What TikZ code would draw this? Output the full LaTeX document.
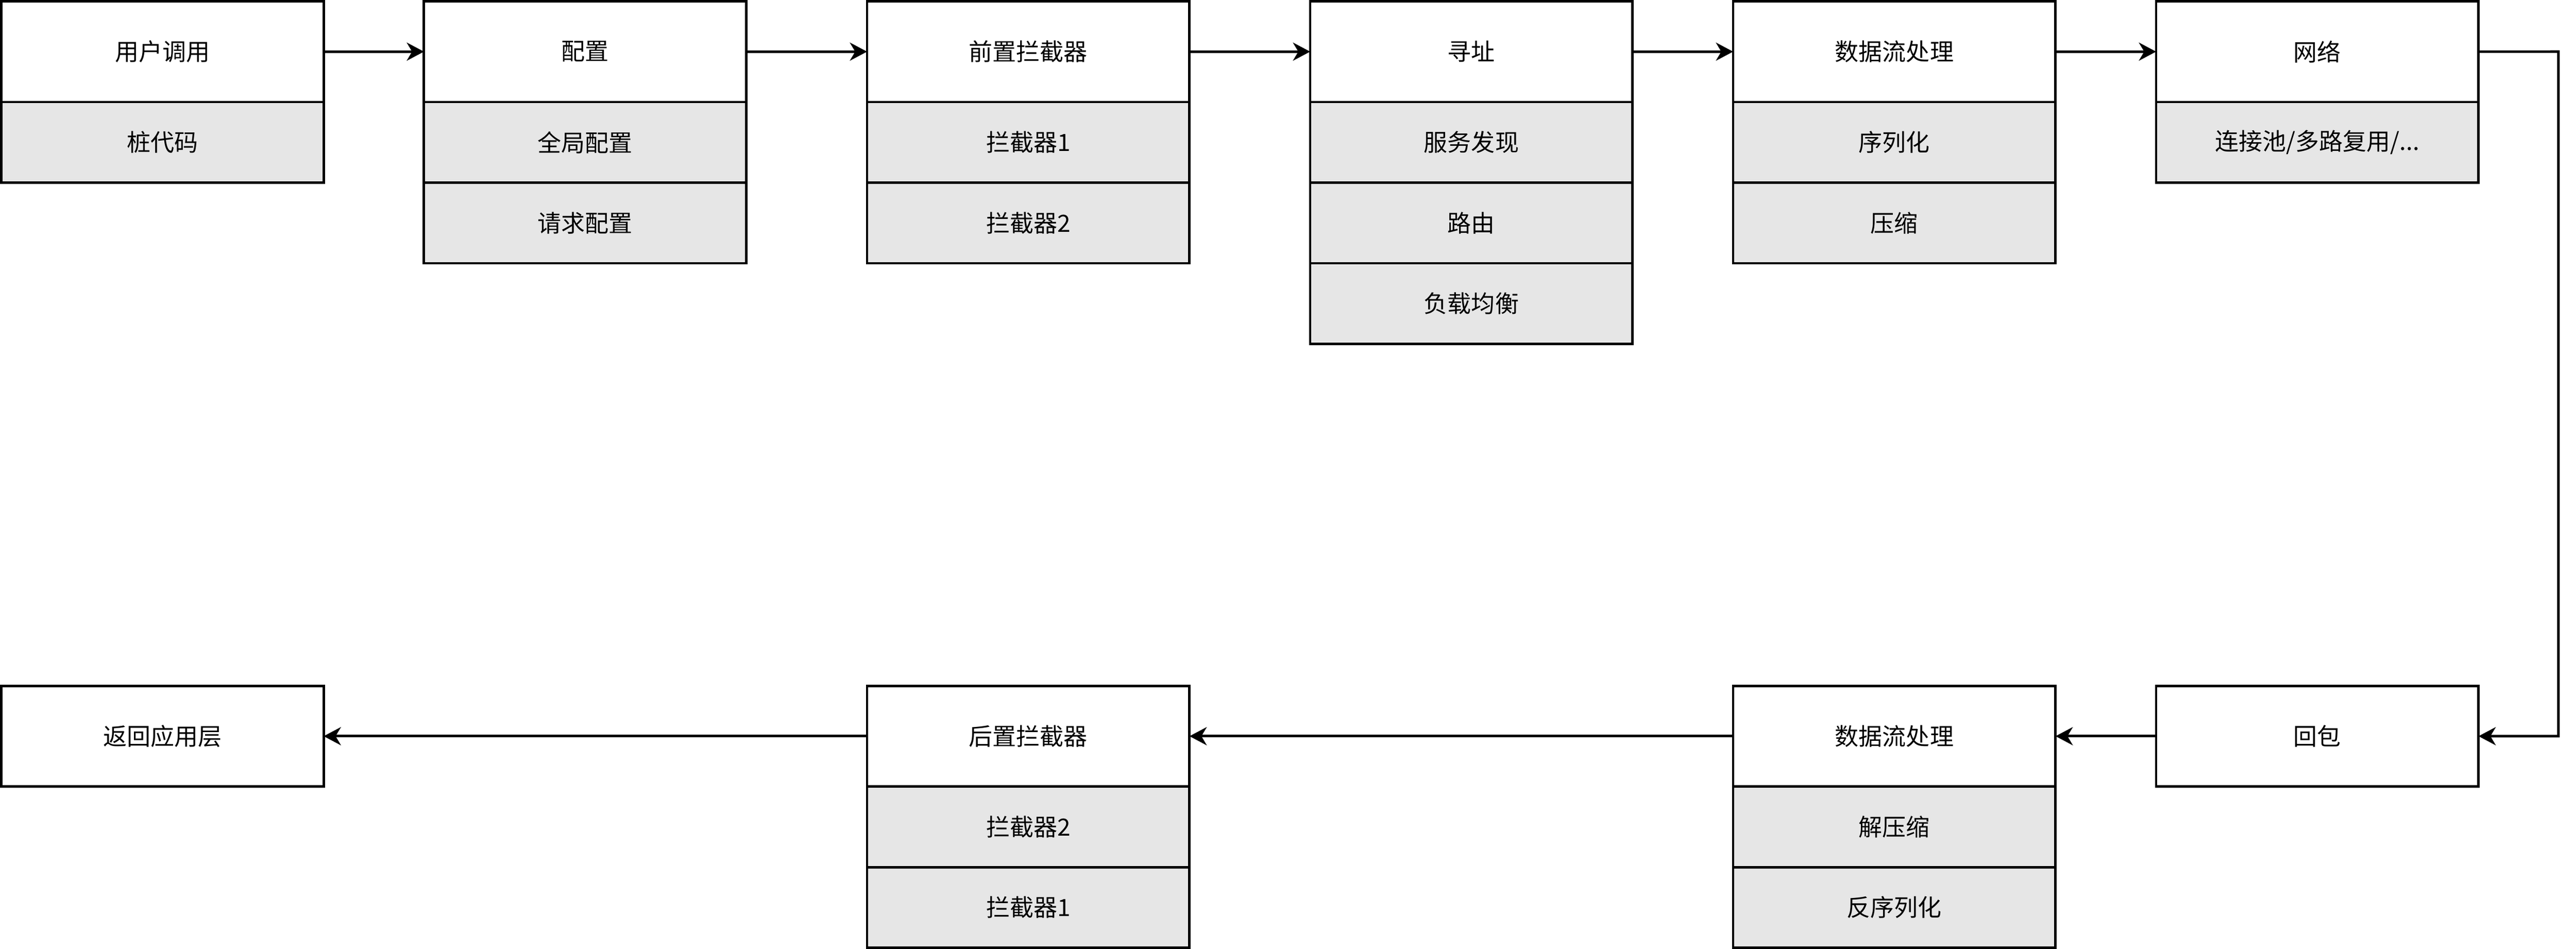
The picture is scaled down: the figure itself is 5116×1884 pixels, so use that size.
\documentclass[tikz,border=0pt]{standalone}
\usepackage{fontspec}
\setmainfont{Noto Sans CJK SC}
\usetikzlibrary{arrows.meta}
\definecolor{rowgray}{HTML}{E6E6E6}
\begin{document}
\begin{tikzpicture}[x=0.01cm,y=-0.01cm,
  box/.style={draw=black, line width=1.42pt, minimum width=6.4cm, minimum height=2cm,
    inner sep=0pt, outer sep=0pt, font=\fontsize{13.4pt}{16pt}\selectfont,
    anchor=north west, fill=white},
  row/.style={box, minimum height=1.6cm, fill=rowgray},
  conn/.style={line width=1.42pt, -{Stealth[length=9.7pt,width=10.2pt,inset=3pt]}}]
\useasboundingbox (0,0) rectangle (5116,1884);
% top row
\node[box] (h1) at (2.5,2.5) {用户调用};
\node[row] (r11) at (h1.south west) {桩代码};
\node[box] (h2) at (842,2.5) {配置};
\node[row] (r21) at (h2.south west) {全局配置};
\node[row] (r22) at (r21.south west) {请求配置};
\node[box] (h3) at (1722,2.5) {前置拦截器};
\node[row] (r31) at (h3.south west) {拦截器1};
\node[row] (r32) at (r31.south west) {拦截器2};
\node[box] (h4) at (2602,2.5) {寻址};
\node[row] (r41) at (h4.south west) {服务发现};
\node[row] (r42) at (r41.south west) {路由};
\node[row] (r43) at (r42.south west) {负载均衡};
\node[box] (h5) at (3442,2.5) {数据流处理};
\node[row] (r51) at (h5.south west) {序列化};
\node[row] (r52) at (r51.south west) {压缩};
\node[box] (h6) at (4282,2.5) {网络};
\node[row] (r61) at (h6.south west) {连接池/多路复用/...};
% bottom row
\node[box] (b1) at (2.5,1362) {返回应用层};
\node[box] (b2) at (1722,1362) {后置拦截器};
\node[row] (b21) at (b2.south west) {拦截器2};
\node[row] (b22) at (b21.south west) {拦截器1};
\node[box] (b3) at (3442,1362) {数据流处理};
\node[row] (b31) at (b3.south west) {解压缩};
\node[row] (b32) at (b31.south west) {反序列化};
\node[box] (b4) at (4282,1362) {回包};
% connectors
\draw[conn] (h1.east) -- (h2.west);
\draw[conn] (h2.east) -- (h3.west);
\draw[conn] (h3.east) -- (h4.west);
\draw[conn] (h4.east) -- (h5.west);
\draw[conn] (h5.east) -- (h6.west);
\coordinate (turn) at (5081,102.5);
\draw[conn] (h6.east) -- (turn) |- (b4.east);
\draw[conn] (b4.west) -- (b3.east);
\draw[conn] (b3.west) -- (b2.east);
\draw[conn] (b2.west) -- (b1.east);
\end{tikzpicture}
\end{document}
